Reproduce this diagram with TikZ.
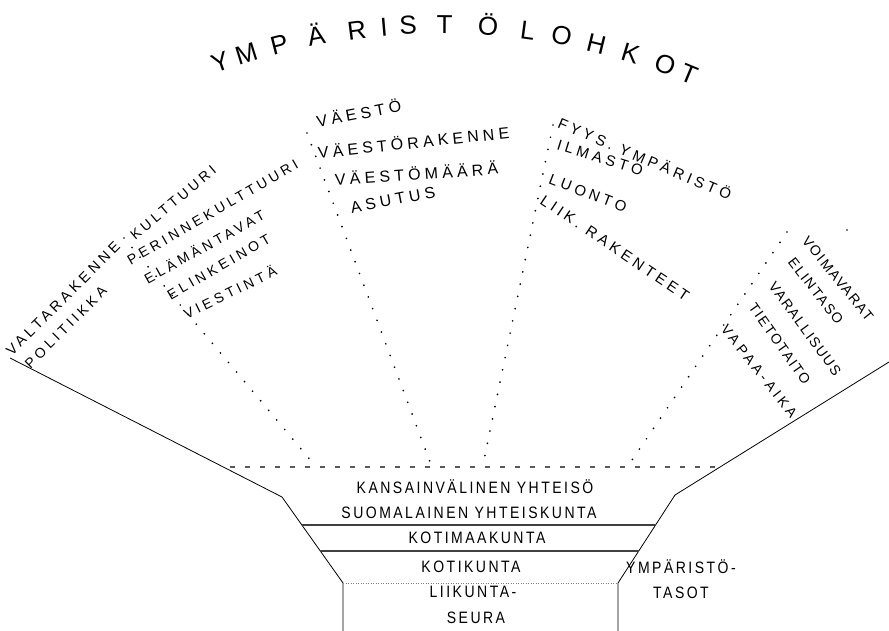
\documentclass[tikz,border=0pt]{standalone}
\usepackage{fontspec}
\setmainfont{Liberation Sans}
\newfontfamily\fanfont[LetterSpace=26]{Liberation Sans}
\newfontfamily\tightfont[LetterSpace=12]{Liberation Sans}
\newfontfamily\levelfont[FakeStretch=0.85,LetterSpace=15]{Liberation Sans}
\usetikzlibrary{calc}

\begin{document}
\begin{tikzpicture}[x=1pt,y=-1pt,
  outline/.style={line width=0.8pt},
  levelline/.style={line width=1.6pt, black!75},
  sector/.style={line width=1.9pt, line cap=round, dash pattern=on 0pt off 12.5pt},
  fan/.style={font=\fanfont\fontsize{#1}{18}\selectfont, inner sep=0pt, anchor=west,
    text height=0.72em, text depth=0pt},
  fan/.default=14,
  rightfan/.style={fan, font=\tightfont\fontsize{14}{18}\selectfont},
  level/.style={font=\levelfont\fontsize{16.5}{18}\selectfont, inner sep=0pt,
    text height=0.72em, text depth=0pt},
  titleletter/.style={font=\fontsize{26}{28}\selectfont, inner sep=0pt,
    text height=0.72em, text depth=0pt}]
\useasboundingbox (0,0) rectangle (889,631);

% funnel outline
\coordinate (L0) at (10,358);
\coordinate (L1) at (282,497);
\coordinate (L2) at (343,583);
\coordinate (L3) at (343,631);
\coordinate (R0) at (889,362);
\coordinate (R1) at (675,495);
\coordinate (R2) at (618,583);
\coordinate (R3) at (618,631);

\draw[outline] (L0) -- (L1) -- (L2) -- (L3);
\draw[outline] (R0) -- (R1) -- (R2) -- (R3);

\draw[levelline] ($(L1)!0.326!(L2)$) -- ($(R1)!0.341!(R2)$);
\draw[levelline] ($(L1)!0.628!(L2)$) -- ($(R1)!0.636!(R2)$);
\draw[gray, line width=1pt, dash pattern=on 1pt off 1.5pt] (L2) -- (R2);

\coordinate (top1) at (230,467);
\coordinate (top2) at (716,467);
\draw[black!65, line width=1.2pt, dash pattern=on 5pt off 10pt] (top1) -- (top2);

% sector borders
\coordinate (s1a) at (124,238);
\coordinate (s1b) at (312,462);
\coordinate (s2a) at (307,133);
\coordinate (s2b) at (430,462);
\coordinate (s3a) at (553,125);
\coordinate (s3b) at (484,460);
\coordinate (s4a) at (787,232);
\coordinate (s4b) at (632,460);
\draw[sector] (s1a) -- (s1b);
\draw[sector] (s2a) -- (s2b);
\draw[sector] (s3a) -- (s3b);
\draw[sector] (s4a) -- (s4b);
\fill (847,230) circle (0.9pt);

% levels
\node[level] (kv) at (475,490) {KANSAINVÄLINEN YHTEISÖ};
\node[level] (sy) at (469,515) {SUOMALAINEN YHTEISKUNTA};
\node[level] (kmk) at (477,540) {KOTIMAAKUNTA};
\node[level] (kk) at (471,569) {KOTIKUNTA};
\node[level] (ls1) at (473,594) {LIIKUNTA-};
\node[level] (ls2) at (476,620) {SEURA};
\node[level, anchor=west] (yt1) at (626,570) {YMPÄRISTÖ-};
\node[level] (yt2) at (681,595) {TASOT};

% sectors
\node[fan=14.5, anchor=south west, rotate=45] (valta) at (12,357) {VALTARAKENNE};
\node[fan=14, rotate=45] (polit) at (28,367) {POLITIIKKA};

\node[fan, rotate=40] (kult) at (133,238) {KULTTUURI};
\node[fan, rotate=30] (perin) at (129,262) {PERINNEKULTTUURI};
\node[fan, rotate=29] (elama) at (146,281) {ELÄMÄNTAVAT};
\node[fan, rotate=30] (elink) at (169,297) {ELINKEINOT};
\node[fan, rotate=26] (viest) at (185,316) {VIESTINTÄ};

\node[fan=16, rotate=11] (vaesto) at (317,124) {VÄESTÖ};
\node[fan=16, rotate=6] (vrak) at (318,155) {VÄESTÖRAKENNE};
\node[fan=16, rotate=4] (vmaara) at (335,182) {VÄESTÖMÄÄRÄ};
\node[fan=16, rotate=11] (asutus) at (351,210) {ASUTUS};

\node[fan=15, rotate=-23] (fyys) at (558,124) {FYYS. YMPÄRISTÖ};
\node[fan=15, rotate=-17.5] (ilma) at (557,146) {ILMASTO};
\node[fan=15, rotate=-21] (luonto) at (549,180) {LUONTO};
\node[fan=15, rotate=-34] (liik) at (541,200) {LIIK. RAKENTEET};

\node[rightfan, rotate=-51] (voima) at (804,239) {VOIMAVARAT};
\node[rightfan, rotate=-52] (elin) at (790,260) {ELINTASO};
\node[rightfan, rotate=-54] (vara) at (771,284) {VARALLISUUS};
\node[rightfan, rotate=-55] (tieto) at (751,305) {TIETOTAITO};
\node[fan, rotate=-52] (vapaa) at (723,327) {VAPAA-AIKA};

% title
\begin{scope}[shift={(440,680)}]
\foreach \a/\l [count=\i] in {109.6/Y,107.2/M,104.2/P,100.9/Ä,97.3/R,94.9/I,92.8/S,89.6/T,
  85.8/Ö,82.3/L,79.3/O,76.2/H,73.1/K,69.9/O,67.6/T}
  \node[titleletter, rotate=\a-90] (t\i) at (-\a:650) {\l};
\end{scope}
\end{tikzpicture}
\end{document}
